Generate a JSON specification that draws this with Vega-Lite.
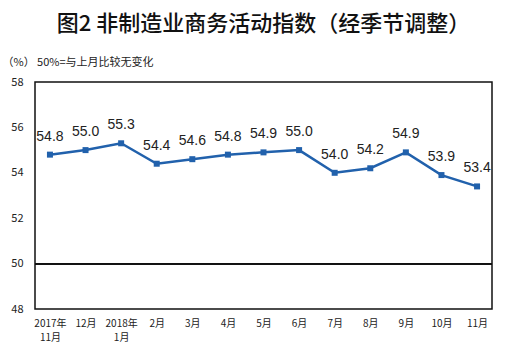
{
  "$schema": "https://vega.github.io/schema/vega-lite/v6.json",
  "autosize": {"type": "none"},
  "width": 457,
  "height": 227,
  "padding": {"left": 35, "top": 82, "right": 35, "bottom": 47},
  "background": "white",
  "title": {
    "text": "图2\u00a0非制造业商务活动指数（经季节调整）",
    "font": "Noto Sans CJK SC",
    "fontSize": 22,
    "fontWeight": 500,
    "color": "#111111",
    "anchor": "middle",
    "frame": "group",
    "baseline": "bottom",
    "offset": -2
  },
  "config": {
    "view": {"stroke": "#111111", "strokeWidth": 1.5},
    "axis": {"labelFont": "Noto Sans CJK SC", "labelFontSize": 10, "labelColor": "#222222", "grid": false, "ticks": false, "domain": false}
  },
  "data": {
    "values": [
      {"m": "2017年|11月", "v": 54.8},
      {"m": "12月", "v": 55.0},
      {"m": "2018年|1月", "v": 55.3},
      {"m": "2月", "v": 54.4},
      {"m": "3月", "v": 54.6},
      {"m": "4月", "v": 54.8},
      {"m": "5月", "v": 54.9},
      {"m": "6月", "v": 55.0},
      {"m": "7月", "v": 54.0},
      {"m": "8月", "v": 54.2},
      {"m": "9月", "v": 54.9},
      {"m": "10月", "v": 53.9},
      {"m": "11月", "v": 53.4}
    ]
  },
  "encoding": {
    "x": {
      "field": "m", "type": "ordinal", "sort": null,
      "scale": {"type": "point", "padding": 0.42},
      "axis": {"title": null, "labelAngle": 0, "labelPadding": 9, "labelLineHeight": 14, "labelBaseline": "top", "labelOverlap": false, "labelExpr": "split(datum.value, '|')"}
    },
    "y": {
      "field": "v", "type": "quantitative",
      "scale": {"domain": [48, 58], "nice": false, "zero": false},
      "axis": {
        "values": [48, 50, 52, 54, 56, 58],
        "labelPadding": 12,
        "labelFontSize": 11,
        "title": "（%）   50%=与上月比较无变化",
        "titleFont": "Noto Sans CJK SC",
        "titleFontSize": 11,
        "titleFontWeight": "normal",
        "titleColor": "#222222",
        "titleAngle": 0,
        "titleAlign": "left",
        "titleBaseline": "middle",
        "titleX": -33,
        "titleY": -20
      }
    }
  },
  "layer": [
    {
      "mark": {"type": "rule", "color": "#111111", "strokeWidth": 1.2},
      "encoding": {"y": {"datum": 50}, "x": {}}
    },
    {
      "mark": {"type": "line", "color": "#2161AC", "strokeWidth": 2.5, "point": {"shape": "square", "size": 36, "color": "#2161AC", "filled": true, "opacity": 1}}
    },
    {
      "mark": {"type": "text", "font": "Liberation Sans", "fontSize": 14, "color": "#222222", "baseline": "middle", "dy": -18},
      "encoding": {"text": {"field": "v", "type": "quantitative", "format": ".1f"}}
    }
  ]
}
